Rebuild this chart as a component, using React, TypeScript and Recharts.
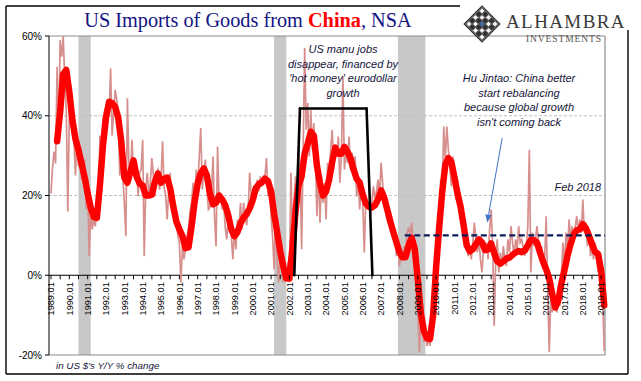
import React from "react";
import { LineChart, Line, XAxis, YAxis, ReferenceLine, ReferenceArea } from "recharts";

// monthly y/y % change, Jan 1989 .. Mar 2019 (t = months since Jan 1989)
const RAW = [
  20.5, 27, 31, 28, 52.3, 34, 59, 54.8, 60, 49,
  41.5, 16, 40, 46.5, 40, 34, 25, 35, 27.3, 31.5,
  24, 27, 29, 16.5, 21.5, 4.8, 16.5, 11.5, 14, 12.3,
  16, 14, 35, 34, 39, 41, 42.3, 44, 40, 51.9,
  35, 41, 46.5, 44, 41, 25, 30, 25, 18.2, 9.8,
  44.4, 28, 24, 34, 25, 29, 27.3, 19.8, 25.7, 26.5,
  34, 4.8, 21.5, 25.7, 20, 23.2, 29.4, 25, 19.8, 25.7,
  26.5, 21.5, 24, 33.6, 22.3, 20, 14, 21, 25.7, 18.2,
  15, 13.2, 14.8, 9.8, 8.2, -1.8, 7.3, 4, 6.5, 9.8,
  12, 16, 18.2, 23.2, 19, 26.5, 21.5, 29.8, 36.9, 21.5,
  25.7, 29, 22.3, 16.5, 17, 19.8, 29.8, 14.8, 7.3, 32.3,
  18.2, 20.7, 16.5, 18.2, 12, 9, 14.8, 11.5, 9.8, 4,
  11.5, 6.5, 14, 11.5, 18.2, 11.5, 18.2, 14.8, 12.5, 16.5,
  25.7, 19.8, 21, 22.3, 19.8, 24, 21, 24.8, 22.3, 24.8,
  24.8, 29.4, 19.8, 22, 14.8, 9.8, 1.5, 14.8, 3.2, -1.8,
  8.2, 0.7, -1.8, 3.2, -0.6, 3.2, -1.8, 25.7, 11.5, 18.2,
  24.8, 22.3, 32.3, 26.5, 6.5, 31.5, 57, 36.5, 43.2, 29.8,
  41.5, 31.5, 38.2, 29.8, 14.8, 26.5, 13.2, 24.8, 18.2, 23.2,
  14, 28.2, 23.2, 31.5, 36.5, 26.5, 32.3, 29.8, 34.8, 23.2,
  29.8, 49.8, 26.5, 31.5, 28.2, 34.8, 26.5, 30.7, 25.7, 29.8,
  19.8, 23.2, 16.5, 22.3, 18.2, 5.7, 19.8, 16.5, 18.2, 14.8,
  18.2, 22.3, 19, 21, 24, 19.8, 28.2, 23.2, 17.3, 19,
  14, 16.5, 12.3, 14, 9, 10.7, 4.8, 8.2, 2.3, 5.7,
  4, 7.3, 5.7, 10.7, 12, 9.8, 13.2, 8.2, 4.8, -2.7,
  -7.7, -19.3, -9.3, -14.3, -16.8, -14.3, -17.7, -16, -17.7, -14.3,
  -11, -6, 0.7, 10.7, 8.2, 24, 20.7, 37.3, 29, 37.3,
  31.5, 27.3, 22.3, 29.8, 22.3, 19, 24, 16.5, 19, 12.3,
  9.5, 7.3, 10.7, 4.8, 7.3, 4, 8.2, 13.2, 9, 5.7,
  9, 4, 0.7, 6.5, 7.3, 8.2, 4, 11.5, 16.5, 7.3,
  -12.7, 4, 9, 0.7, 5.7, 2.3, 7.3, 4, 2.3, 9,
  5.7, 12.3, 8.2, 4.8, 9, 6.5, 12.3, 8.2, 9, 7,
  4.8, 7.3, 12.3, 31.5, 0.7, 10.7, 7.3, 9, 12.3, 8.2,
  4.8, 7.3, 2.3, 4, 14.8, -2.7, -19.3, -6, -9.3, -6,
  -8, -9.3, -2.7, -7.7, 0.7, 8.2, 2.3, 10.7, 6.5, 14,
  9, 12.3, 8.2, 12, 14.8, 10.7, 14, 10.7, 19, 10.7,
  13.2, 7.3, 10.7, 4.8, 7.3, 4, 8.2, 4, 0.7, 4,
  0.7, -6, -19,
];

// smoothed series, every other month from t = 4
const AVG_START = 4;
const AVG = [
  33.6, 41, 50.5, 51.5, 46, 39, 34.2, 31.4, 28, 24.6,
  20.5, 17, 14.6, 14.4, 22.5, 32.5, 39.5, 43.5, 43.2, 42.2,
  39.5, 33.5, 24.5, 23.2, 26, 28.8, 24.8, 23, 22.5, 20,
  20, 20.2, 23.5, 25.5, 23.2, 24.2, 24.5, 21.8, 17.3, 13.5,
  11.5, 9.8, 6.8, 7, 12.3, 18.5, 23, 25.6, 26.8, 25,
  20.5, 17.8, 18.2, 20, 19, 17.6, 15, 11.5, 9.8, 10.8,
  13, 14.5, 15.3, 16.8, 18.8, 21.8, 22.8, 23.3, 24.2, 23.6,
  21, 15.5, 10.8, 6, 2.2, -0.8, -0.8, 7, 16, 22.6,
  24.8, 30.5, 33, 36, 35, 27.5, 23, 20, 21, 24,
  28.5, 32, 30.5, 30.5, 32.2, 31, 29.3, 26.5, 24.2, 23.2,
  20.2, 18, 17.2, 17, 17.6, 19, 21.3, 19.5, 16.5, 13.5,
  10.8, 8.3, 5.8, 4.5, 4.5, 7.5, 9.4, 6.6, -1, -9.5,
  -14, -15.8, -16, -10.2, 2, 12, 21, 27.7, 29.4, 28.4,
  24.5, 20.5, 17.2, 12.5, 7.5, 6, 6.5, 7.8, 9, 8.2,
  6.3, 6.5, 8, 5.5, 3.5, 2.9, 3.5, 4.2, 4.4, 5.1,
  5.7, 6.1, 5.8, 6.2, 7.5, 8.9, 8.8, 8.2, 5.7, 3.4,
  1.5, -0.8, -4.8, -8.1, -6.2, -2, 1.3, 5, 7.8, 10.2,
  11.3, 11.5, 12.8, 11.8, 9.9, 7.8, 5.9, 5.3, 1, -7.5,
];

const X_LABELS = [
  "1989.01", "1990.01", "1991.01", "1992.01", "1993.01", "1994.01", "1995.01", "1996.01",
  "1997.01", "1998.01", "1999.01", "2000.01", "2001.01", "2002.01", "2003.01", "2004.01",
  "2005.01", "2006.01", "2007.01", "2008.01", "2009.01", "2010.01", "2011.01", "2012.01",
  "2013.01", "2014.01", "2015.01", "2016.01", "2017.01", "2018.01", "2019.01",
];
const Y_TICKS = [-20, 0, 20, 40, 60];
const RECESSIONS = [
  [18, 26],
  [146, 154],
  [227, 245],
];
// annotation geometry in data units
const BOX = [
  { x: 159.2, y: 0 },
  { x: 162.9, y: 41.8 },
  { x: 206.5, y: 41.8 },
  { x: 210.3, y: 0 },
];
const TARGET_LEVEL = 10;
const TARGET_FROM = 231.5;
const ARROW = [
  { x: 295.2, y: 34.4 },
  { x: 285.4, y: 13.2 },
];

const W = 641;
const H = 381;
const X_DOMAIN: [number, number] = [-1.3, 362.5];
const PLOT_TOP = 36;
const PLOT_H = 319;
const Y_ZERO = PLOT_TOP + (PLOT_H * 60) / 80;
const FONT = "'Liberation Sans', Arial, sans-serif";
const SERIF = "'Liberation Serif', 'Times New Roman', serif";

const rows = RAW.map((v, t) => {
  const k = (t - AVG_START) / 2;
  const avg = t >= AVG_START && Number.isInteger(k) && k < AVG.length ? AVG[k] : null;
  return { t, raw: v, avg };
});

const halfYears = X_LABELS.flatMap((_, i) => (i < X_LABELS.length - 1 ? [i * 12, i * 12 + 6] : [i * 12]));

function XTick(props: any) {
  const { x, payload } = props;
  const t = payload.value as number;
  const label = t % 12 === 0 ? X_LABELS[t / 12] : null;
  return (
    <g>
      <line x1={x} y1={Y_ZERO} x2={x} y2={Y_ZERO + 4} stroke="#000" strokeWidth={1} />
      {label && (
        <text
          transform={`translate(${x},${Y_ZERO + 7}) rotate(-90)`}
          textAnchor="end"
          dy="0.35em"
          fontSize={9.2}
          fontFamily={FONT}
          fill="#000"
        >
          {label}
        </text>
      )}
    </g>
  );
}

function ArrowShape(p: any) {
  const { x1, y1, x2, y2 } = p;
  const ang = Math.atan2(y2 - y1, x2 - x1);
  const bx = x2 - 8 * Math.cos(ang);
  const by = y2 - 8 * Math.sin(ang);
  const px = -Math.sin(ang) * 3.2;
  const py = Math.cos(ang) * 3.2;
  return (
    <g>
      <line x1={x1} y1={y1} x2={bx} y2={by} stroke="#4472C4" strokeWidth={1} />
      <polygon points={`${x2},${y2} ${bx + px},${by + py} ${bx - px},${by - py}`} fill="#4472C4" />
    </g>
  );
}

function Logo() {
  const cells: React.ReactElement[] = [];
  for (let i = -2; i <= 2; i++) {
    for (let j = -2; j <= 2; j++) {
      const center = i === 0 && j === 0;
      const dark = (i + j) % 2 !== 0;
      cells.push(
        <rect
          key={`${i}_${j}`}
          x={i * 4.6 - 2}
          y={j * 4.6 - 2}
          width={4}
          height={4}
          fill={center ? "#3f6fb5" : dark ? "#2e2e2e" : "#fff"}
          stroke="#2e2e2e"
          strokeWidth={0.8}
        />
      );
    }
  }
  return (
    <g>
      <rect x={460} y={0} width={181} height={30} fill="#fff" />
      <g transform="translate(482,24) rotate(45)">
        <rect x={-12.5} y={-12.5} width={25} height={25} fill="none" stroke="#2e2e2e" strokeWidth={1.4} />
        {cells}
      </g>
      <text x={506} y={28} fontFamily={SERIF} fontSize={19} letterSpacing={1.4} fill="#3a3a3a">
        ALHAMBRA
      </text>
      <text x={526} y={41.5} fontFamily={SERIF} fontSize={9.5} letterSpacing={0.9} fill="#555">
        INVESTMENTS
      </text>
    </g>
  );
}

export default function App() {
  const note = { fontFamily: FONT, fontSize: 11, fontStyle: "italic" as const, fill: "#15153a" };
  return (
    <div style={{ position: "absolute", left: 0, top: 0, width: W, height: H, background: "#fff", overflow: "hidden" }}>
      <LineChart width={W} height={H} data={rows} margin={{ top: PLOT_TOP, right: 36, bottom: 25, left: 0 }}>
        <XAxis
          type="number"
          dataKey="t"
          domain={X_DOMAIN}
          ticks={halfYears}
          interval={0}
          tick={<XTick />}
          axisLine={false}
          tickLine={false}
          height={1}
        />
        <YAxis
          domain={[-20, 60]}
          ticks={Y_TICKS}
          interval={0}
          width={49}
          tickFormatter={(v) => `${v}%`}
          tick={{ fontSize: 10, fontFamily: FONT, fill: "#000" }}
          tickSize={4}
          tickMargin={3}
          axisLine={{ stroke: "#000" }}
          tickLine={{ stroke: "#000" }}
        />
        <ReferenceLine y={40} stroke="#BFBFBF" strokeDasharray="3 2" />
        <ReferenceLine y={20} stroke="#BFBFBF" strokeDasharray="3 2" />
        <ReferenceLine y={60} stroke="#8C8C8C" strokeWidth={1.2} />
        <ReferenceLine y={-20} stroke="#8C8C8C" strokeWidth={1.2} />
        <ReferenceLine x={X_DOMAIN[1]} stroke="#8C8C8C" strokeWidth={1.2} />
        {RECESSIONS.map(([a, b]) => (
          <ReferenceArea key={a} x1={a} x2={b} y1={-20} y2={60} fill="#C8C8C8" fillOpacity={1} stroke="none" />
        ))}
        <ReferenceLine y={0} stroke="#000" strokeWidth={1.2} />
        <Line
          type="linear"
          dataKey="raw"
          stroke="#D68F8D"
          strokeWidth={1.7}
          dot={false}
          isAnimationActive={false}
        />
        <Line
          type="linear"
          dataKey="avg"
          stroke="#FF0000"
          strokeWidth={6.5}
          strokeLinejoin="round"
          strokeLinecap="round"
          dot={false}
          connectNulls
          isAnimationActive={false}
        />
        {BOX.slice(1).map((p, i) => (
          <ReferenceLine
            key={i}
            segment={[BOX[i], p]}
            stroke="#000"
            strokeWidth={2.6}
            strokeLinecap="round"
          />
        ))}
        <ReferenceLine
          segment={[
            { x: TARGET_FROM, y: TARGET_LEVEL },
            { x: X_DOMAIN[1], y: TARGET_LEVEL },
          ]}
          stroke="#0B1F5C"
          strokeWidth={2.4}
          strokeDasharray="6 3.5"
        />
        <ReferenceLine segment={[ARROW[0], ARROW[1]]} shape={ArrowShape} />
      </LineChart>

      <svg width={W} height={H} style={{ position: "absolute", left: 0, top: 0, pointerEvents: "none" }}>
        <g stroke="#000" strokeWidth={1.4} fill="none">
          <line x1={6} y1={6} x2={617} y2={6} />
          <line x1={6} y1={6} x2={6} y2={374} />
          <line x1={6} y1={374} x2={628} y2={374} />
          <line x1={628} y1={30} x2={628} y2={374} />
        </g>
        <Logo />
        <text x={248} y={27} textAnchor="middle" fontFamily={SERIF} fontSize={20.3} fill="#141483">
          US Imports of Goods from{" "}
          <tspan fill="#FF0000" fontWeight="bold">
            China
          </tspan>
          , NSA
        </text>
        <g {...note} textAnchor="middle">
          <text x={343} y={53}>US manu jobs</text>
          <text x={343} y={67.6}>disappear, financed by</text>
          <text x={343} y={82.2}>'hot money' eurodollar</text>
          <text x={343} y={96.8}>growth</text>
          <text x={519} y={82}>Hu Jintao: China better</text>
          <text x={519} y={96.5}>start rebalancing</text>
          <text x={519} y={111}>because global growth</text>
          <text x={519} y={125.5}>isn't coming back</text>
        </g>
        <text {...note} x={601} y={191} textAnchor="end">
          Feb 2018
        </text>
        <text {...note} fontSize={9.8} x={56} y={369}>
          in US $'s Y/Y % change
        </text>
      </svg>
    </div>
  );
}
